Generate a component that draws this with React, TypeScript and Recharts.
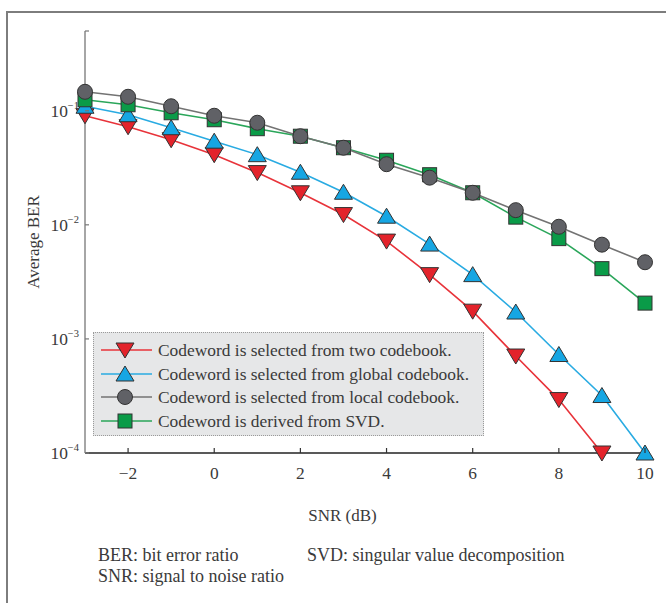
import React from 'react';
import { LineChart, Line, XAxis, YAxis, Legend, Label } from 'recharts';

const snr = [-3, -2, -1, 0, 1, 2, 3, 4, 5, 6, 7, 8, 9, 10];
const twoCodebook = [0.0904, 0.0724, 0.0557, 0.0412, 0.0287, 0.0191, 0.0123, 0.0072, 0.00366, 0.00175, 0.000708, 0.000294, 0.0001, null];
const globalCodebook = [0.1095, 0.0923, 0.071, 0.0541, 0.0412, 0.0289, 0.0193, 0.0119, 0.00678, 0.00366, 0.00172, 0.00073, 0.000319, 0.0001];
const localCodebook = [0.1466, 0.1326, 0.1095, 0.0904, 0.0785, 0.0598, 0.0474, 0.034, 0.0259, 0.0191, 0.01345, 0.00962, 0.0067, 0.0047];
const svdCodeword = [0.1248, 0.1128, 0.096, 0.0834, 0.0696, 0.0598, 0.0474, 0.0368, 0.0275, 0.0191, 0.01168, 0.00757, 0.00413, 0.00206];

const xTicks = [-2, 0, 2, 4, 6, 8, 10];
const yTicks = [0.0001, 0.001, 0.01, 0.1, 0.5];

const seriesNames = [
  'Codeword is selected from two codebook.',
  'Codeword is selected from global codebook.',
  'Codeword is selected from local codebook.',
  'Codeword is derived from SVD.',
];

const FONT = '"Liberation Serif", "DejaVu Serif", serif';
const TEXT = '#3a3a3a';

type Shape = 'down' | 'up' | 'circle' | 'square';

const series: { key: string; name: string; line: string; fill: string; shape: Shape }[] = [
  { key: 'two', name: seriesNames[0], line: '#e8333a', fill: '#e3232b', shape: 'down' },
  { key: 'global', name: seriesNames[1], line: '#29abe2', fill: '#16a6e3', shape: 'up' },
  { key: 'local', name: seriesNames[2], line: '#737373', fill: '#606166', shape: 'circle' },
  { key: 'svd', name: seriesNames[3], line: '#2aa65a', fill: '#0a9b48', shape: 'square' },
];

const data = snr.map((s, i) => ({
  snr: s,
  two: twoCodebook[i],
  global: globalCodebook[i],
  local: localCodebook[i],
  svd: svdCodeword[i],
}));

function MarkerShape({ cx, cy, shape, fill }: { cx: number; cy: number; shape: Shape; fill: string }) {
  const st = { fill, stroke: '#333', strokeWidth: 1 };
  if (shape === 'down') {
    return <polygon points={`${cx - 9},${cy - 7} ${cx + 9},${cy - 7} ${cx},${cy + 8}`} {...st} />;
  }
  if (shape === 'up') {
    return <polygon points={`${cx - 9},${cy + 7} ${cx + 9},${cy + 7} ${cx},${cy - 8}`} {...st} />;
  }
  if (shape === 'circle') {
    return <circle cx={cx} cy={cy} r={7.5} {...st} />;
  }
  return <rect x={cx - 7} y={cy - 7} width={14} height={14} {...st} />;
}

const makeDot = (shape: Shape, fill: string) => (props: any) => {
  const { cx, cy, index, value } = props;
  if (cx == null || cy == null || value == null || Number.isNaN(cy)) return <g key={`d-${index}`} />;
  return <MarkerShape key={`d-${index}`} cx={cx} cy={cy} shape={shape} fill={fill} />;
};

const XTick = (props: any) => {
  const { x, y, payload } = props;
  const v = payload.value as number;
  const label = v < 0 ? `\u2212${Math.abs(v)}` : `${v}`;
  return (
    <g>
      <line x1={x} x2={x} y1={y} y2={y - 5} stroke="#333" strokeWidth={1.2} />
      <text x={x} y={y + 26} textAnchor="middle" fontFamily={FONT} fontSize={17.4} fill={TEXT}>
        {label}
      </text>
    </g>
  );
};

const YTick = (props: any) => {
  const { x, y, payload } = props;
  const v = payload.value as number;
  const lg = Math.log10(v);
  const exp = Math.round(lg);
  const isDecade = Math.abs(lg - exp) < 1e-6;
  return (
    <g>
      <line x1={x} x2={x + 4} y1={y} y2={y} stroke="#777" strokeWidth={1.2} />
      {isDecade && (
        <text x={x - 6} y={y + 6} textAnchor="end" fontFamily={FONT} fontSize={17.4} fill={TEXT}>
          10
          <tspan dy={-8} fontSize={10.5}>{`\u2212${-exp}`}</tspan>
        </text>
      )}
    </g>
  );
};

const LegendBox = () => (
  <div
    style={{
      width: 391,
      height: 104,
      boxSizing: 'border-box',
      background: '#e6e7e8',
      border: '1px dotted #9a9a9a',
      fontFamily: FONT,
      fontSize: 17.4,
      color: TEXT,
      position: 'relative',
    }}
  >
    {series.map((s, i) => (
      <div
        key={s.key}
        style={{ position: 'absolute', left: 0, top: 17.3 + i * 23.4 - 12, height: 24, display: 'flex', alignItems: 'center' }}
      >
        <svg width={64} height={24} style={{ display: 'block' }}>
          <line x1={7} x2={58} y1={12} y2={12} stroke={s.line} strokeWidth={1.6} />
          <MarkerShape cx={31} cy={12} shape={s.shape} fill={s.fill} />
        </svg>
        <span style={{ whiteSpace: 'nowrap', lineHeight: '24px' }}>{s.name}</span>
      </div>
    ))}
  </div>
);

export default function App() {
  return (
    <div style={{ position: 'absolute', left: 0, top: 0, width: 666, height: 603, overflow: 'hidden', background: '#fff' }}>
      <div
        style={{
          position: 'absolute',
          left: 6,
          top: 11,
          width: 700,
          height: 700,
          borderLeft: '2px solid #7d7d7d',
          borderTop: '2px solid #7d7d7d',
        }}
      />
      <LineChart
        width={666}
        height={603}
        data={data}
        margin={{ top: 31, right: 21, left: 25, bottom: 80 }}
        style={{ position: 'absolute', left: 0, top: 0 }}
      >
        <XAxis
          dataKey="snr"
          type="number"
          domain={[-3, 10]}
          ticks={xTicks}
          height={70}
          tickSize={0}
          tickMargin={0}
          tick={<XTick />}
          axisLine={{ stroke: '#222', strokeWidth: 1.4 }}
          tickLine={false}
          interval={0}
        >
          <Label
            content={() => (
              <text x={342.5} y={521} textAnchor="middle" fontFamily={FONT} fontSize={17} fill={TEXT}>
                SNR (dB)
              </text>
            )}
          />
        </XAxis>
        <YAxis
          type="number"
          scale="log"
          domain={[0.0001, 0.5]}
          ticks={yTicks}
          width={60}
          tickSize={0}
          tickMargin={0}
          tick={<YTick />}
          axisLine={{ stroke: '#808080', strokeWidth: 1.4 }}
          tickLine={false}
          interval={0}
        >
          <Label
            content={(p: any) => {
              const vb = p.viewBox || {};
              const cy = (vb.y ?? 31) + (vb.height ?? 422) / 2;
              return (
                <text
                  transform={`translate(39, ${cy}) rotate(-90)`}
                  textAnchor="middle"
                  fontFamily={FONT}
                  fontSize={17}
                  fill={TEXT}
                >
                  Average BER
                </text>
              );
            }}
          />
        </YAxis>
        <Legend
          layout="horizontal"
          verticalAlign="middle"
          align="center"
          content={() => <LegendBox />}
          wrapperStyle={{ position: 'absolute', left: 93, top: 332, width: 391, height: 104, margin: 0 }}
        />
        {[series[0], series[1], series[3], series[2]].map((s) => (
          <Line
            key={s.key}
            dataKey={s.key}
            name={s.name}
            stroke={s.line}
            strokeWidth={1.6}
            dot={makeDot(s.shape, s.fill)}
            activeDot={false}
            isAnimationActive={false}
            connectNulls={false}
            type="linear"
          />
        ))}
      </LineChart>
      <div
        style={{
          position: 'absolute',
          left: 98,
          top: 545,
          fontFamily: FONT,
          fontSize: 18,
          color: TEXT,
          lineHeight: '21px',
          whiteSpace: 'nowrap',
        }}
      >
        <div>
          <span style={{ display: 'inline-block', width: 209 }}>BER: bit error ratio</span>
          <span>SVD: singular value decomposition</span>
        </div>
        <div>SNR: signal to noise ratio</div>
      </div>
    </div>
  );
}
